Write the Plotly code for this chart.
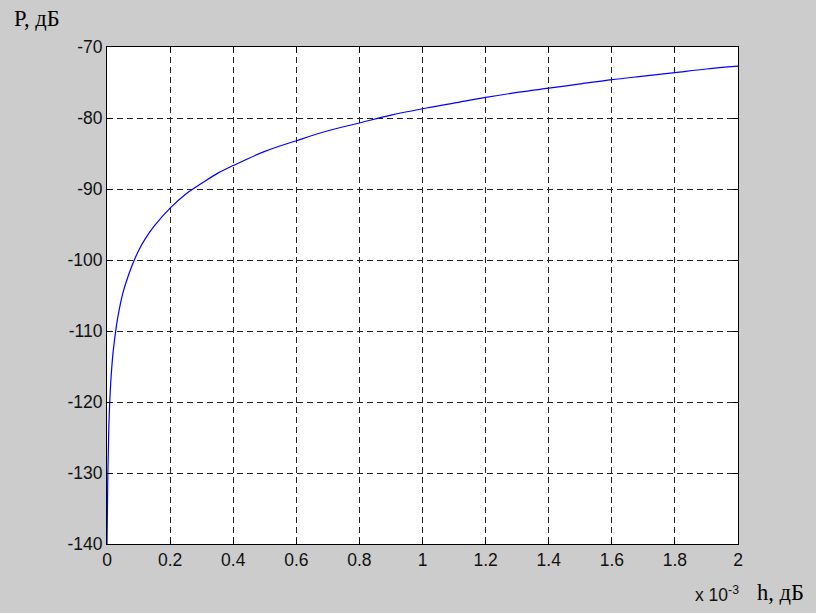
import plotly.graph_objects as go

# h values in units of 1e-3 (axis multiplier "x 10^-3"), P in dB
h_vals = [0.0, 0.0024, 0.006, 0.01, 0.015, 0.02, 0.03, 0.04, 0.05, 0.06, 0.08,
          0.10, 0.12, 0.15, 0.20, 0.25, 0.30, 0.35, 0.40, 0.50, 0.60, 0.70,
          0.80, 0.90, 1.00, 1.10, 1.20, 1.30, 1.40, 1.50, 1.60, 1.70, 1.80,
          1.90, 2.00]
p_vals = [-140.0, -131.1, -123.2, -118.7, -115.2, -112.7, -109.2, -106.7, -104.7,
          -103.2, -100.7, -98.7, -97.1, -95.2, -92.7, -90.7, -89.2, -87.8, -86.7,
          -84.7, -83.2, -81.8, -80.7, -79.6, -78.7, -77.9, -77.1, -76.4, -75.8,
          -75.2, -74.6, -74.1, -73.6, -73.1, -72.7]

x_ticks = [0, 0.2, 0.4, 0.6, 0.8, 1, 1.2, 1.4, 1.6, 1.8, 2]
x_tick_text = ["0", "0.2", "0.4", "0.6", "0.8", "1", "1.2", "1.4", "1.6", "1.8", "2"]
y_ticks = [-140, -130, -120, -110, -100, -90, -80, -70]
y_tick_text = ["-140", "-130", "-120", "-110", "-100", "-90", "-80", "-70"]

fig = go.Figure()
fig.add_trace(go.Scatter(x=h_vals, y=p_vals, mode="lines",
                         line=dict(color="#0000ff", width=1.2), showlegend=False,
                         line_shape="spline"))

axis_common = dict(
    showline=True, linecolor="black", linewidth=1, mirror="ticks",
    ticks="inside", ticklen=5, tickcolor="black", tickwidth=1,
    showgrid=True, gridcolor="#222222", gridwidth=1, griddash="6px,4px",
    zeroline=False,
    tickfont=dict(family="Liberation Sans, Arial", size=17.5, color="#111111"),
)

fig.update_xaxes(range=[0, 2], tickvals=x_ticks, ticktext=x_tick_text, **axis_common)
fig.update_yaxes(range=[-140, -70], tickvals=y_ticks, ticktext=y_tick_text, **axis_common)

fig.update_layout(
    width=816, height=613,
    margin=dict(l=107, r=78, t=47, b=69),
    paper_bgcolor="#cccccc", plot_bgcolor="white",
    annotations=[
        dict(text="P, дБ", xref="paper", yref="paper", x=-0.151, y=1.058,
             xanchor="left", yanchor="middle", showarrow=False,
             font=dict(family="Liberation Serif, Times New Roman", size=22.5, color="black")),
        dict(text="h, дБ", xref="paper", yref="paper", x=1.027, y=-0.097,
             xanchor="left", yanchor="middle", showarrow=False,
             font=dict(family="Liberation Serif, Times New Roman", size=22.5, color="black")),
        dict(text="x 10<sup>-3</sup>", xref="paper", yref="paper", x=1.004, y=-0.101,
             xanchor="right", yanchor="middle", showarrow=False,
             font=dict(family="Liberation Sans, Arial", size=17.5, color="#111111")),
    ],
)

fig.write_html("out.html", config={"displayModeBar": False},
               post_script="document.body.style.margin='0';")
